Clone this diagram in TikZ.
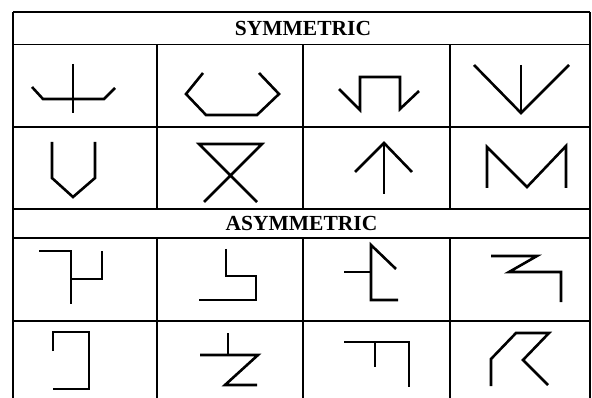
\documentclass[tikz,border=0pt]{standalone}
\usepackage{fontspec}
\setmainfont{Liberation Serif}
\begin{document}
\begin{tikzpicture}[x=1pt,y=-1pt,
  grid/.style={line width=1.4pt,black},
  glyph/.style={line width=2.6pt,black,line join=miter,line cap=butt},
  head/.style={font=\bfseries\fontsize{21.5}{24}\selectfont,inner sep=0pt,anchor=base}]
\useasboundingbox (0,0) rectangle (592,398);
% grid
\draw[grid] (13,12) -- (590,12);
\draw[grid] (13,44.5) -- (590,44.5);
\draw[grid] (13,127) -- (590,127);
\draw[grid] (13,209) -- (590,209);
\draw[grid] (13,238) -- (590,238);
\draw[grid] (13,321) -- (590,321);
\draw[grid] (13,12) -- (13,398);
\draw[grid] (590,12) -- (590,398);
\foreach \x in {157,303,450}{
  \draw[grid] (\x,44.5) -- (\x,209);
  \draw[grid] (\x,238) -- (\x,398);
}
% headings
\node[head] (sym) at (303,36) {SYMMETRIC};
\node[head] (asym) at (301.5,231) {ASYMMETRIC};
% ---- symmetric row 1
\draw[glyph] (73,64) -- (73,113);
\draw[glyph] (32,87) -- (43,99) -- (104,99) -- (115,88);
\draw[glyph] (203,73) -- (186,94) -- (206,115) -- (257,115) -- (279,94) -- (259,73);
\draw[glyph] (339,89) -- (360,110) -- (360,77) -- (400,77) -- (400,109) -- (419,91);
\draw[glyph] (474,65) -- (521,113) -- (569,65);
\draw[glyph] (521,65) -- (521,113);
% ---- symmetric row 2
\draw[glyph] (52,142) -- (52,178) -- (73,197) -- (95,178) -- (95,142);
\draw[glyph] (257,202) -- (199,144) -- (262,144) -- (204,202);
\draw[glyph] (355,172) -- (384,143) -- (412,172);
\draw[glyph] (384,143) -- (384,194);
\draw[glyph] (487,188) -- (487,147) -- (527,187) -- (566,146) -- (566,188);
% ---- asymmetric row 1
\draw[glyph] (39,251) -- (71,251) -- (71,304);
\draw[glyph] (71,279) -- (102,279) -- (102,251);
\draw[glyph] (226,249) -- (226,276) -- (256,276) -- (256,300) -- (199,300);
\draw[glyph] (344,272) -- (371,272);
\draw[glyph] (396,269) -- (371,245) -- (371,300) -- (398,300);
\draw[glyph] (491,256) -- (537,256) -- (509,272) -- (561,272) -- (561,302);
% ---- asymmetric row 2
\draw[glyph] (53,351) -- (53,332) -- (89,332) -- (89,389) -- (53,389);
\draw[glyph] (228,333) -- (228,355);
\draw[glyph] (200,355) -- (258,355) -- (225,385) -- (257,385);
\draw[glyph] (344,342) -- (409,342) -- (409,387);
\draw[glyph] (375,342) -- (375,367);
\draw[glyph] (491,386) -- (491,359) -- (516,333) -- (549,333) -- (523,360) -- (548,385);
\end{tikzpicture}
\end{document}
